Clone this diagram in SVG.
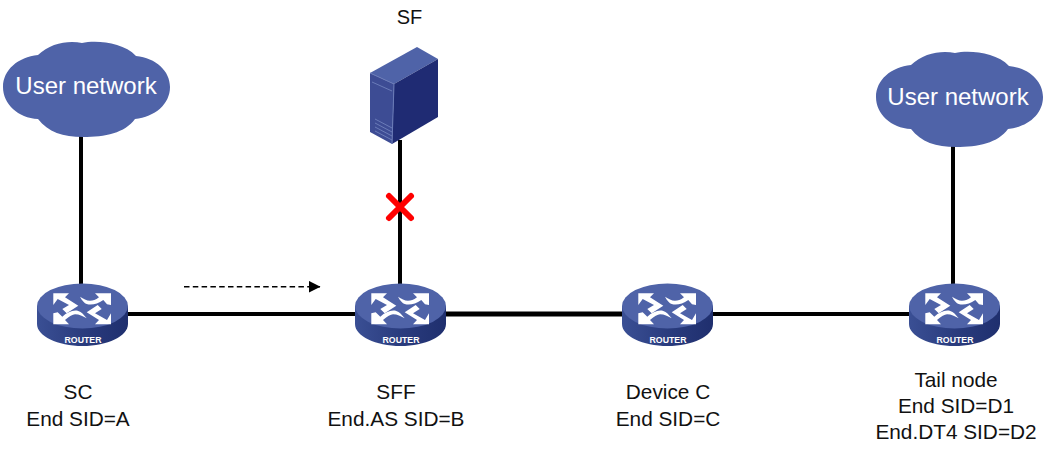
<svg xmlns="http://www.w3.org/2000/svg" width="1046" height="450" viewBox="0 0 1046 450">
<style>
.t{font-family:"Liberation Sans",Arial,sans-serif;font-size:20.800px;fill:#111;text-anchor:middle}
.c{font-family:"Liberation Sans",Arial,sans-serif;font-size:24px;fill:#fff;text-anchor:middle}
.w{stroke:#000;stroke-width:4;fill:none}
.ar{fill:#fff;stroke:none}
</style>
<defs>
<marker id="ah" markerWidth="12" markerHeight="12" refX="11.500" refY="6" orient="auto" markerUnits="userSpaceOnUse"><path d="M0 0L12 6L0 12Z" fill="#000"/></marker>
<linearGradient id="side" x1="0" x2="1" y1="0" y2="0"><stop offset="0" stop-color="#3a4f94"/><stop offset="0.5" stop-color="#2a3c7e"/><stop offset="1" stop-color="#1f2f6e"/></linearGradient>
<symbol id="router" width="92" height="64" viewBox="0 0 92 64" overflow="visible">
<path d="M0.5 23V41C0.5 53 21 63 46 63S91.500 53 91.500 41V23Z" fill="url(#side)"/>
<ellipse cx="46" cy="23" rx="45.500" ry="22.500" fill="#4f63a8"/>
<g class="ar">
<path d="M16.800 10.300H32.500L28.500 14.300L41.800 22.700L30.200 30.300L25.800 26L32.500 22L21.200 16L16.800 22Z"/>
<path d="M74.500 10.300H58.500L62.500 14.300C59 17 56.500 17.700 53.500 17.700C50 17.700 47 15.500 43.500 13.700C45.500 17.500 48 20.300 50.200 21C55 22.500 61 21 66.800 17L70.500 21.300L74.500 22Z"/>
<path d="M16.800 41.300H32.500L28.500 37C33 33.500 36 31.300 38.500 31.300C43 31.300 46 33.500 50.200 35.300C47 31.500 45 29 41.800 28C37 26.500 31 29 25.800 33.700L21.200 29.300L16.800 30.300Z"/>
<path d="M74.500 41.300H58.500L62.500 37L50.200 29.300L61.200 22L65.200 26L58.500 30.300L70.500 37L74.500 30.300Z"/>
</g>
<text x="46.500" y="60" textLength="37" lengthAdjust="spacingAndGlyphs" style="font-family:'Liberation Sans',Arial,sans-serif;font-size:9.500px;font-weight:700;fill:#fff;text-anchor:middle">ROUTER</text>
</symbol>
<symbol id="cloud" width="168" height="97" viewBox="0 0 168 97" overflow="visible">
<path d="M35 14C47 2 66 -1 79 2C93 -1 120 1 133 15C153 17 167 30 167 46C167 63 152 76 132 78C122 92 102 96 80 96C60 96 45 91 35 78C15 77 0 63 0 46C0 29 15 16 35 14Z" fill="#4f63a8"/>
</symbol>
</defs>
<g id="connectors">
<path class="w" d="M81 135V290"/>
<path class="w" d="M953 145V290"/>
<path class="w" d="M400 140V290"/>
<path class="w" d="M125 314H360"/>
<path class="w" d="M440 314H625" style="stroke-width:5"/>
<path class="w" d="M710 314H912"/>
<path d="M184 286.700H320" stroke="#000" stroke-width="1.500" stroke-dasharray="5.500 3.300" fill="none" marker-end="url(#ah)"/>
</g>
<g id="net1"><use href="#cloud" x="3" y="41"/><text class="c" x="86" y="94">User network</text></g>
<g id="net2"><use href="#cloud" x="876" y="51"/><text class="c" x="958" y="105">User network</text></g>
<g id="sf">
<text class="t" x="409.500" y="24" style="font-size:20px">SF</text>
<path d="M370 73L417 47L438 59L394 84Z" fill="#4f63a8"/>
<path d="M370 73L394 84L392 144L370 132Z" fill="#3d4c94"/>
<path d="M394 84L438 59V117L392 144Z" fill="#1f2b73"/>
<path d="M372 82L392 91M375 119L392 128M375 123L392 132M375 127L392 136M375 131L392 140" stroke="#6a7bb8" stroke-width="1" fill="none"/>
<path d="M370 73L394 84L392 144" stroke="#6a7bb8" stroke-width="1" fill="none"/>
</g>
<g id="fault"><path d="M389 196L411 218M411 196L389 218" stroke="#f00" stroke-width="6" stroke-linecap="round" fill="none"/></g>
<g id="sc"><use href="#router" x="36.500" y="283"/><text class="t" x="78" y="399">SC</text><text class="t" x="78" y="426">End SID=A</text></g>
<g id="sff"><use href="#router" x="354.500" y="283"/><text class="t" x="396" y="399">SFF</text><text class="t" x="396" y="426">End.AS SID=B</text></g>
<g id="devc"><use href="#router" x="621.500" y="283"/><text class="t" x="668" y="399">Device C</text><text class="t" x="668" y="426">End SID=C</text></g>
<g id="tail"><use href="#router" x="908.500" y="283"/><text class="t" x="956" y="387">Tail node</text><text class="t" x="956" y="413">End SID=D1</text><text class="t" x="956" y="439">End.DT4 SID=D2</text></g>
</svg>
